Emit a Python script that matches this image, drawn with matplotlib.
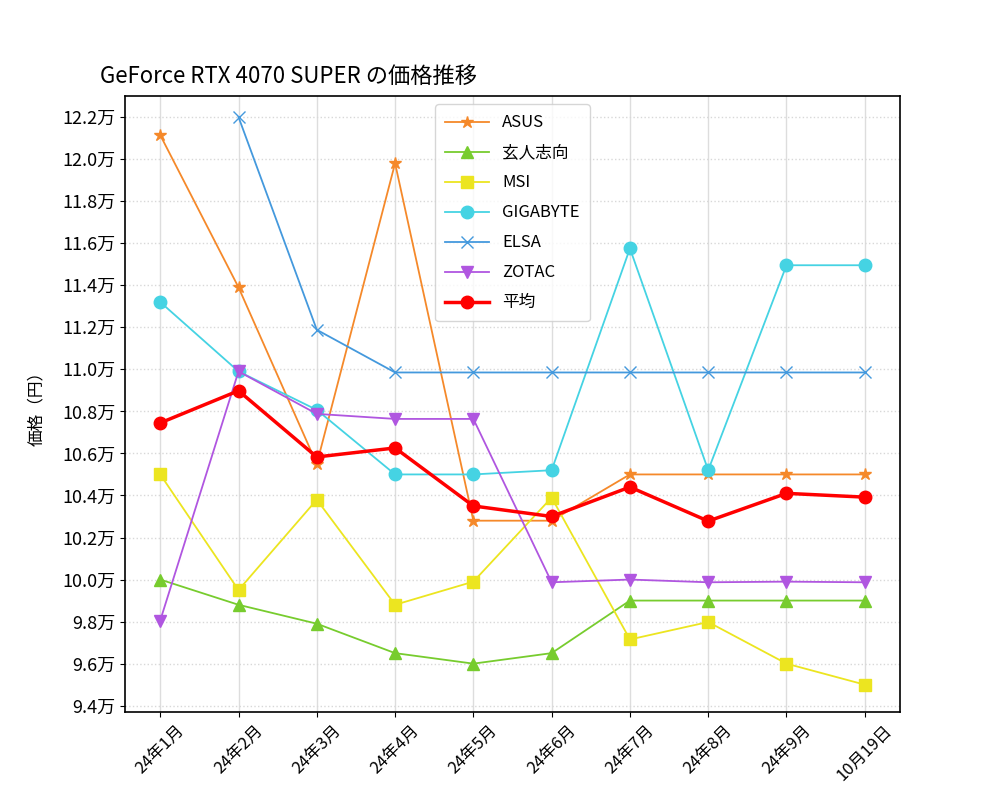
import numpy as np
import matplotlib
matplotlib.use("Agg")
import matplotlib.pyplot as plt
from matplotlib.ticker import FuncFormatter

plt.rcParams['font.family'] = ['Noto Sans CJK JP', 'DejaVu Sans']

# === Data (円) ===
months = ['24年1月', '24年2月', '24年3月', '24年4月', '24年5月',
          '24年6月', '24年7月', '24年8月', '24年9月', '10月19日']

asus = [121140, 113900, 105500, 119800, 102800, 102800, 105000, 105000, 105000, 105000]
kuroto = [100000, 98800, 97900, 96500, 96000, 96500, 99000, 99000, 99000, 99000]
msi = [105000, 99500, 103800, 98800, 99900, 103900, 97150, 97980, 96000, 95000]
gigabyte = [113200, 109900, 108070, 105000, 105000, 105200, 115750, 105200, 114950, 114950]
elsa = [np.nan, 122000, 111880, 109850, 109850, 109850, 109850, 109850, 109850, 109850]
zotac = [98050, 109900, 107880, 107640, 107640, 99870, 100000, 99870, 99900, 99870]
average = [107450, 108980, 105830, 106260, 103500, 103000, 104400, 102780, 104100, 103920]

# === Plot ===
fig, ax = plt.subplots(figsize=(10, 8), dpi=100)
x = np.arange(len(months))

ax.plot(x, asus, marker='*', color='#f5892a', lw=1.3, ms=9, label='ASUS')
ax.plot(x, kuroto, marker='^', color='#77cc2e', lw=1.3, ms=9, label='玄人志向')
ax.plot(x, msi, marker='s', color='#ece520', lw=1.3, ms=9, label='MSI')
ax.plot(x, gigabyte, marker='o', color='#45d3e3', lw=1.3, ms=9, label='GIGABYTE')
ax.plot(x, elsa, marker='x', color='#4499dd', lw=1.3, ms=9, label='ELSA')
ax.plot(x, zotac, marker='v', color='#b056e0', lw=1.3, ms=9, label='ZOTAC')
ax.plot(x, average, marker='o', color='red', lw=2.5, ms=9, label='平均')

ax.set_ylim(93700, 123000)
ax.set_yticks(np.arange(94000, 122001, 2000))
ax.yaxis.set_major_formatter(FuncFormatter(lambda v, p: f"{v/10000:.1f}万"))
ax.set_xticks(x)
ax.set_xticklabels(months, rotation=45, fontsize=12)
ax.tick_params(axis='y', labelsize=13)
ax.set_ylabel('価格（円）', fontsize=12, labelpad=12)

ax.grid(axis='x', color='#dddddd', lw=1)
ax.grid(axis='y', color='#d8d8d8', lw=1, ls=':')
for s in ax.spines.values():
    s.set_linewidth(1.2)

ax.legend(loc='upper center', fontsize=12, borderpad=0.6, handlelength=2.6,
          labelspacing=0.78)
fig.text(0.1, 0.905, 'GeForce RTX 4070 SUPER の価格推移', fontsize=16, ha='left', va='center')

plt.savefig('out.png')
